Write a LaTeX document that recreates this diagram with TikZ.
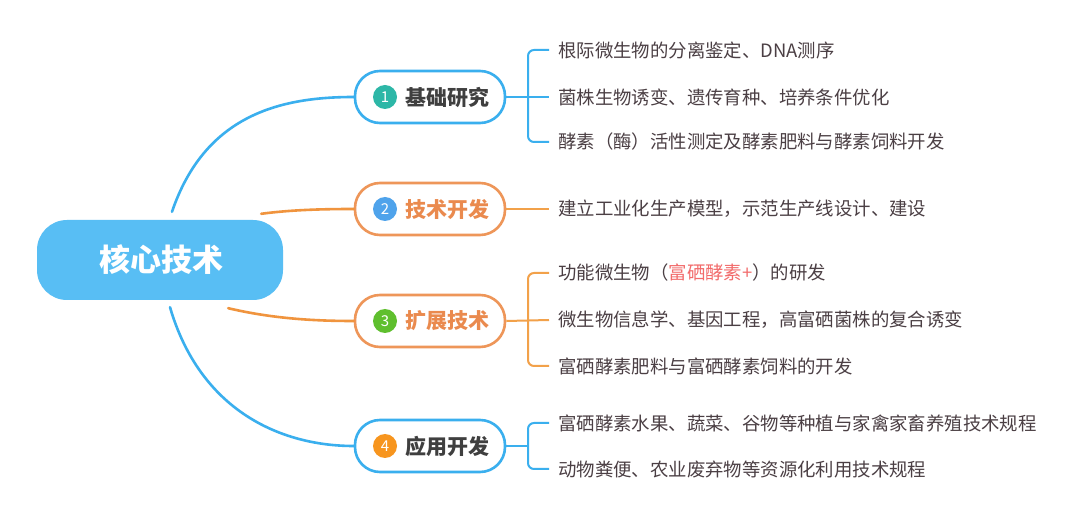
\documentclass[tikz,border=0pt]{standalone}
\usepackage{fontspec}
\setmainfont{Noto Sans CJK SC}
\newfontfamily\cjk{Noto Sans CJK SC}
\usetikzlibrary{calc}
\definecolor{corefill}{HTML}{58BEF4}
\definecolor{blueln}{HTML}{3AAFEE}
\definecolor{orangeln}{HTML}{F0943E}
\definecolor{orangebox}{HTML}{EE9659}
\definecolor{orangetxt}{HTML}{EA8A4E}
\definecolor{brk}{HTML}{F2A14A}
\definecolor{txt}{HTML}{4B3F44}
\definecolor{titletxt}{HTML}{3F3F3F}
\definecolor{hl}{HTML}{F26B6B}
\definecolor{cteal}{HTML}{2DB7A7}
\definecolor{cblue}{HTML}{4FA3EB}
\definecolor{cgreen}{HTML}{5FBF2E}
\definecolor{corange}{HTML}{F7951E}
\tikzset{
  corebox/.style={fill=corefill, rounded corners=30pt, minimum width=246pt, minimum height=80pt, inner sep=0pt},
  branchbox/.style={draw=#1, line width=2.6pt, fill=white, rounded corners=25pt, minimum width=150pt, minimum height=52pt, inner sep=0pt},
  numdot/.style={circle, fill=#1, minimum size=24pt, inner sep=0pt, text=white, font=\cjk\fontsize{15}{15}\selectfont},
  title/.style={anchor=west, inner sep=0pt, font=\cjk\bfseries\fontsize{21}{21}\selectfont},
  leaf/.style={anchor=west, inner sep=0pt, text=txt, font=\cjk\fontsize{18.4}{18.4}\selectfont},
  bl/.style={draw=blueln, line width=2.6pt, line cap=round},
  ol/.style={draw=orangeln, line width=2.6pt, line cap=round},
  bbr/.style={draw=blueln, line width=2pt, rounded corners=6pt},
  obr/.style={draw=brk, line width=2pt, rounded corners=6pt},
}
\begin{document}
\begin{tikzpicture}[x=1pt,y=-1pt]
\useasboundingbox[fill=white] (0,0) rectangle (1080,521);
% core
\node[corebox] (core) at (160,260) {};
\node[inner sep=0pt, text=white, font=\cjk\bfseries\fontsize{31}{31}\selectfont] (coretxt) at (161,260) {核心技术};
% branches
\node[branchbox=blueln] (b1) at (430,97) {};
\node[numdot=cteal] (n1) at (385,97) {1};
\node[title, text=titletxt] (h1) at (405,97) {基础研究};

\node[branchbox=orangebox] (b2) at (430,209) {};
\node[numdot=cblue] (n2) at (385,209) {2};
\node[title, text=orangetxt] (h2) at (405,209) {技术开发};

\node[branchbox=orangebox] (b3) at (430,321) {};
\node[numdot=cgreen] (n3) at (385,321) {3};
\node[title, text=orangetxt] (h3) at (405,321) {扩展技术};

\node[branchbox=blueln] (b4) at (430,446) {};
\node[numdot=corange] (n4) at (385,446) {4};
\node[title, text=titletxt] (h4) at (405,446) {应用开发};

% connectors core -> branches
\coordinate (s1) at ($(core.north)+(12,-8)$);
\coordinate (s2) at ($(core.north east)+(-22,-6)$);
\coordinate (s3) at ($(core.south east)+(-55,8)$);
\coordinate (s4) at ($(core.south)+(10,7)$);
\draw[bl] (s1) .. controls (205,115) and (280,97) .. (b1.west);
\draw[ol] (s2) .. controls (290,210) and (320,209) .. (b2.west);
\draw[ol] (s3) .. controls (270,318) and (310,321) .. (b3.west);
\draw[bl] (s4) .. controls (200,410) and (280,446) .. (b4.west);

% leaves branch 1
\node[leaf] (t11) at (558,50) {根际微生物的分离鉴定、DNA测序};
\node[leaf] (t12) at (558,97) {菌株生物诱变、遗传育种、培养条件优化};
\node[leaf] (t13) at (558,142) {酵素（酶）活性测定及酵素肥料与酵素饲料开发};
\draw[bbr] ([xshift=-9pt]t11.west) -| ([xshift=-30pt]t13.west) -- ([xshift=-9pt]t13.west);
\draw[bbr] (b1.east) -- ([xshift=-9pt]t12.west);

% branch 2
\node[leaf] (t21) at (558,209) {建立工业化生产模型，示范生产线设计、建设};
\draw[obr] (b2.east) -- ([xshift=-9pt]t21.west);

% branch 3
\node[leaf] (t31) at (558,273) {功能微生物（\textcolor{hl}{富硒酵素+}）的研发};
\node[leaf] (t32) at (558,320) {微生物信息学、基因工程，高富硒菌株的复合诱变};
\node[leaf] (t33) at (558,366) {富硒酵素肥料与富硒酵素饲料的开发};
\draw[obr] ([xshift=-9pt]t31.west) -| ([xshift=-30pt]t33.west) -- ([xshift=-9pt]t33.west);
\draw[obr] (b3.east) -- ([xshift=-9pt]t32.west);

% branch 4
\node[leaf] (t41) at (558,423) {富硒酵素水果、蔬菜、谷物等种植与家禽家畜养殖技术规程};
\node[leaf] (t42) at (558,469) {动物粪便、农业废弃物等资源化利用技术规程};
\draw[bbr] ([xshift=-9pt]t41.west) -| ([xshift=-30pt]t42.west) -- ([xshift=-9pt]t42.west);
\draw[bbr] (b4.east) -- ([xshift=-30pt]b4.east -| t41.west);
\end{tikzpicture}
\end{document}
